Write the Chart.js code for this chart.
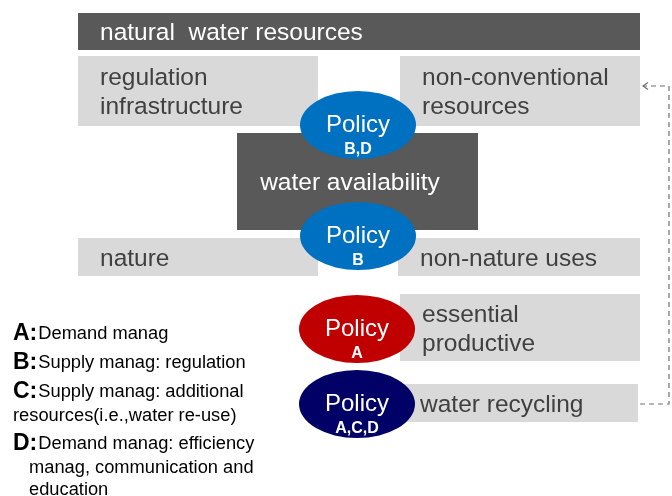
<!DOCTYPE html>
<html>
<head>
<meta charset="utf-8">
<script src="https://cdn.jsdelivr.net/npm/chart.js@4"></script>
<style>
html,body{margin:0;padding:0;background:#fff;}
#wrap{width:672px;height:496px;}
</style>
</head>
<body>
<div id="wrap"><canvas id="c" width="672" height="496"></canvas></div>
<script>
// Diagram boxes (diagram units: x 0-672, y 0-496 top-down)
const boxLines = [["natural  water resources"],["regulation","infrastructure"],["non-conventional","resources"],["water availability"],["nature"],["non-nature uses"],["essential","productive"],["water recycling"]];
const boxKind = ["dark","light","light","dark","light","light","light","light"];
const boxX0 = [78, 78, 400, 237, 78, 398, 400, 398];
const boxX1 = [640, 318, 640, 478, 318, 640, 640, 638];
const boxY0 = [13, 56, 56, 133, 238, 238, 294, 384];
const boxY1 = [50, 126, 126, 230, 276, 276, 361, 422];
const boxTextAlign = ["left","left","left","center","left","left","left","left"];

// Policy ellipses
const policyTitle = ["Policy","Policy","Policy","Policy"];
const policyLetters = ["B,D","B","A","A,C,D"];
const policyCX = [358, 358, 357, 357];
const policyCY = [125, 236, 329, 404];
const policyColor = ["#0070c0","#0070c0","#c00000","#000066"];

// Legend
const legendKeys = ["A:","B:","C:","","D:","",""];
const legendTexts = ["Demand manag","Supply manag: regulation","Supply manag: additional","resources(i.e.,water re-use)","Demand manag: efficiency","manag, communication and","education"];
const legendY = [333, 362, 391, 415, 443, 467, 489];
const legendIndent = [0,0,0,0,0,16,16];

// Feedback loop (dashed) from recycling to non-conventional
const loopX = [640, 669, 669, 643];
const loopY = [404, 404, 86, 86];

const FONT = '"Liberation Sans", Arial, Helvetica, sans-serif';

const diagramPlugin = {
  id: 'diagram',
  afterDatasetsDraw(chart) {
    const ctx = chart.ctx;
    const xs = chart.scales.x, ys = chart.scales.y;
    const px = v => xs.getPixelForValue(v);
    const py = v => ys.getPixelForValue(v);
    ctx.save();
    // boxes
    for (let i = 0; i < boxLines.length; i++) {
      const x0 = px(boxX0[i]), x1 = px(boxX1[i]), y0 = py(boxY0[i]), y1 = py(boxY1[i]);
      ctx.fillStyle = boxKind[i] === 'dark' ? '#595959' : '#d9d9d9';
      ctx.fillRect(x0, y0, x1 - x0, y1 - y0);
      ctx.fillStyle = boxKind[i] === 'dark' ? '#ffffff' : '#404040';
      ctx.font = '24.5px ' + FONT;
      ctx.textBaseline = 'middle';
      const lines = boxLines[i];
      const lh = 29;
      const cy = (y0 + y1) / 2;
      const startY = cy - (lines.length - 1) * lh / 2 + 2;
      for (let k = 0; k < lines.length; k++) {
        if (boxTextAlign[i] === 'center') {
          ctx.textAlign = 'center';
          ctx.fillText(lines[k], (x0 + x1) / 2 - 7.5, startY + k * lh);
        } else {
          ctx.textAlign = 'left';
          ctx.fillText(lines[k], x0 + 22, startY + k * lh);
        }
      }
    }
    // dashed loop
    ctx.strokeStyle = '#707070';
    ctx.lineWidth = 1.2;
    ctx.setLineDash([5, 4]);
    ctx.beginPath();
    ctx.moveTo(px(loopX[0]), py(loopY[0]));
    for (let k = 1; k < loopX.length; k++) ctx.lineTo(px(loopX[k]), py(loopY[k]));
    ctx.stroke();
    ctx.setLineDash([]);
    const ax = px(loopX[loopX.length - 1]), ay = py(loopY[loopY.length - 1]);
    ctx.beginPath();
    ctx.moveTo(ax + 5, ay - 3.5);
    ctx.lineTo(ax, ay);
    ctx.lineTo(ax + 5, ay + 3.5);
    ctx.stroke();
    // ellipses
    for (let i = 0; i < policyTitle.length; i++) {
      const cx = px(policyCX[i]), cy = py(policyCY[i]);
      const rx = Math.abs(px(policyCX[i] + 58) - cx), ry = Math.abs(py(policyCY[i] + 34) - cy);
      ctx.fillStyle = policyColor[i];
      ctx.beginPath();
      ctx.ellipse(cx, cy, rx, ry, 0, 0, Math.PI * 2);
      ctx.fill();
      ctx.fillStyle = '#ffffff';
      ctx.textAlign = 'center';
      ctx.textBaseline = 'middle';
      ctx.font = '24px ' + FONT;
      ctx.fillText(policyTitle[i], cx, cy);
      ctx.font = 'bold 16px ' + FONT;
      ctx.fillText(policyLetters[i], cx, cy + 25);
    }
    // legend
    ctx.textAlign = 'left';
    ctx.textBaseline = 'alphabetic';
    ctx.fillStyle = '#000000';
    for (let i = 0; i < legendTexts.length; i++) {
      let x = px(13 + legendIndent[i]);
      const y = py(legendY[i]) + 6;
      if (legendKeys[i]) {
        ctx.font = 'bold 23px ' + FONT;
        ctx.fillText(legendKeys[i], x, y + 1);
        x += ctx.measureText(legendKeys[i]).width + 1;
      }
      ctx.font = '18.3px ' + FONT;
      ctx.fillText(legendTexts[i], x, y);
    }
    ctx.restore();
  }
};

new Chart(document.getElementById('c'), {
  type: 'scatter',
  data: { datasets: [{ data: [], pointRadius: 0 }] },
  options: {
    responsive: false,
    animation: false,
    devicePixelRatio: 1,
    layout: { padding: 0 },
    plugins: { legend: { display: false }, tooltip: { enabled: false } },
    scales: {
      x: { type: 'linear', min: 0, max: 672, display: false },
      y: { type: 'linear', min: 0, max: 496, reverse: true, display: false }
    }
  },
  plugins: [diagramPlugin]
});
</script>
</body>
</html>
